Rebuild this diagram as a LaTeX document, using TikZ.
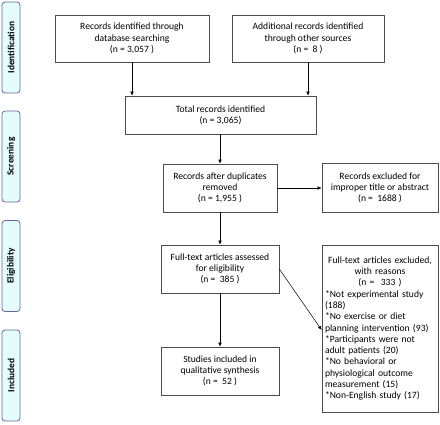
\documentclass[tikz,border=0pt]{standalone}
\usepackage{fontspec}
\setmainfont{Carlito}
\usetikzlibrary{arrows.meta}

\tikzset{
	box/.style={draw=black!70, line width=0.7pt, align=center, inner sep=2pt, font=\fontsize{9.6}{11.3}\selectfont},
	phase/.style={draw=black!65!blue!60, fill=blue!12!cyan!10, line width=0.8pt, rounded corners=3pt, rotate=90, minimum width=91pt, minimum height=18pt, inner sep=0pt, font=\fontsize{9.4}{10}\selectfont\bfseries},
	arr/.style={-{Latex[length=4pt,width=3.5pt]}, line width=0.5pt}
}

\begin{document}
\begin{tikzpicture}[x=1pt, y=-1pt]
	\useasboundingbox (0,0) rectangle (440,424);

	% phases
	\node[phase] (ident) at (11,47.5) {Identification};
	\node[phase] (screen) at (11,156.5) {Screening};
	\node[phase] (elig) at (11,266) {Eligibility};
	\node[phase] (incl) at (11,375.5) {Included};

	% flow boxes
	\node[box, minimum width=154pt, minimum height=47pt] (db) at (132,38.5) {Records identified through\\database searching\\(n = 3,057 )};
	\node[box, minimum width=152pt, minimum height=47pt] (other) at (308,38.5) {Additional records identified\\through other sources\\(n = ~8 )};
	\node[box, minimum width=191pt, minimum height=38pt] (total) at (220.5,115) {Total records identified\\(n = 3,065)};
	\node[box, minimum width=114pt, minimum height=48pt] (dup) at (220,188) {Records after duplicates\\removed\\(n = 1,955 )};
	\node[box, minimum width=116pt, minimum height=49pt] (excl) at (380,188) {Records excluded for\\improper title or abstract\\(n = ~1688 )};
	\node[box, minimum width=118pt, minimum height=48pt] (full) at (220,269) {Full-text articles assessed\\for eligibility\\(n = ~385 )};
	\node[box, minimum width=118pt, minimum height=48pt] (incl2) at (220,371) {Studies included in\\qualitative synthesis\\(n = ~52 )};
	\node[box, minimum width=116pt, minimum height=167pt, text width=110pt, align=left] (fexcl) at (380,328.5)
		{\centering Full-text articles excluded,\\with reasons\\(n = ~333 )\par
		\raggedright {*}Not experimental study\\(188)\\{*}No exercise or diet\\planning intervention (93)\\{*}Participants were not\\adult patients (20)\\{*}No behavioral or\\physiological outcome\\measurement (15)\\{*}Non-English study (17)};

	% arrows
	\draw[arr] (db.south) -- (db.south |- total.north);
	\draw[arr] (other.south) -- (other.south |- total.north);
	\draw[arr] (total.south -| dup.north) -- (dup.north);
	\draw[arr] (dup.east) -- (excl.west);
	\draw[arr] (dup.south) -- (full.north);
	\draw[arr] (full.south) -- (incl2.north);
	\draw[arr] (full.east) -- ([yshift=-1.5pt]fexcl.west);
\end{tikzpicture}
\end{document}
